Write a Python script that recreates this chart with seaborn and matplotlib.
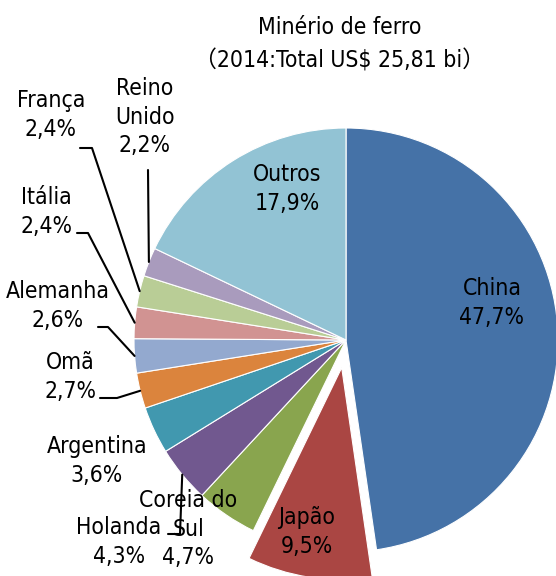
import numpy as np
import matplotlib.pyplot as plt
import seaborn as sns

# Minério de ferro - destinos das exportações 2014
paises = ["China", "Japão", "Coreia do\nSul", "Holanda", "Argentina", "Omã",
          "Alemanha", "Itália", "França", "Reino\nUnido", "Outros"]
participacao = [47.7, 9.5, 4.7, 4.3, 3.6, 2.7, 2.6, 2.4, 2.4, 2.2, 17.9]
cores = ["#4572A7", "#AA4643", "#89A54E", "#71588F", "#4198AF", "#DB843D",
         "#93A9CF", "#D19392", "#B9CD96", "#A99BBD", "#92C3D4"]

# posição dos rótulos (pixels)
pos_rotulos = [(492, 303), (307, 532), (188, 529), (119, 542), (97, 461), (70, 377),
               (58, 306), (46, 212), (51, 115), (145, 117), (287, 189)]
# linhas de chamada: índice da fatia -> pontos até o rótulo
guias = {
    9: [(148, 170)],
    8: [(92, 148), (80, 148)],
    7: [(88, 233), (77, 233)],
    6: [(108, 327), (98, 327)],
    5: [(117, 398), (100, 398)],
    3: [(180, 534), (168, 534)],
}

sns.set_theme(style="white")
# fonte estreita (DejaVu Sans Condensed) e fallback para parênteses largos
plt.rcParams["font.family"] = ["DejaVu Sans", "Noto Sans CJK JP"]
plt.rcParams["font.stretch"] = "condensed"

fig = plt.figure(figsize=(5.56, 5.76), dpi=100)
ax = fig.add_axes([0, 0, 1, 1])

centro = (346, 340)
raio = 212
explode = [28 if p == "Japão" else 0 for p in paises]

wedges, _ = ax.pie(participacao, colors=sns.color_palette(cores), startangle=-90,
                   counterclock=True, center=centro, radius=raio, explode=explode,
                   wedgeprops=dict(edgecolor="white", linewidth=0.8))

ax.set_xlim(0, 556)
ax.set_ylim(576, 0)
ax.set_aspect("equal")
ax.axis("off")

for nome, valor, (x, y) in zip(paises, participacao, pos_rotulos):
    txt = f"{nome}\n{valor:.1f}%".replace(".", ",")
    ax.text(x, y, txt, ha="center", va="center", fontsize=16.5, color="black",
            linespacing=1.3)

for i, pontos in guias.items():
    w = wedges[i]
    ang = np.deg2rad((w.theta1 + w.theta2) / 2)
    x0 = centro[0] + raio * np.cos(ang)
    y0 = centro[1] + raio * np.sin(ang)
    xs = [x0] + [p[0] for p in pontos]
    ys = [y0] + [p[1] for p in pontos]
    ax.plot(xs, ys, color="black", linewidth=1.5)

ax.text(340, 28, "Minério de ferro", ha="center", va="center", fontsize=16.5, color="black")
ax.text(340, 61, "（2014:Total US$ 25,81 bi）", ha="center", va="center", fontsize=16.5,
        color="black")

plt.savefig("out.png", dpi=100)
